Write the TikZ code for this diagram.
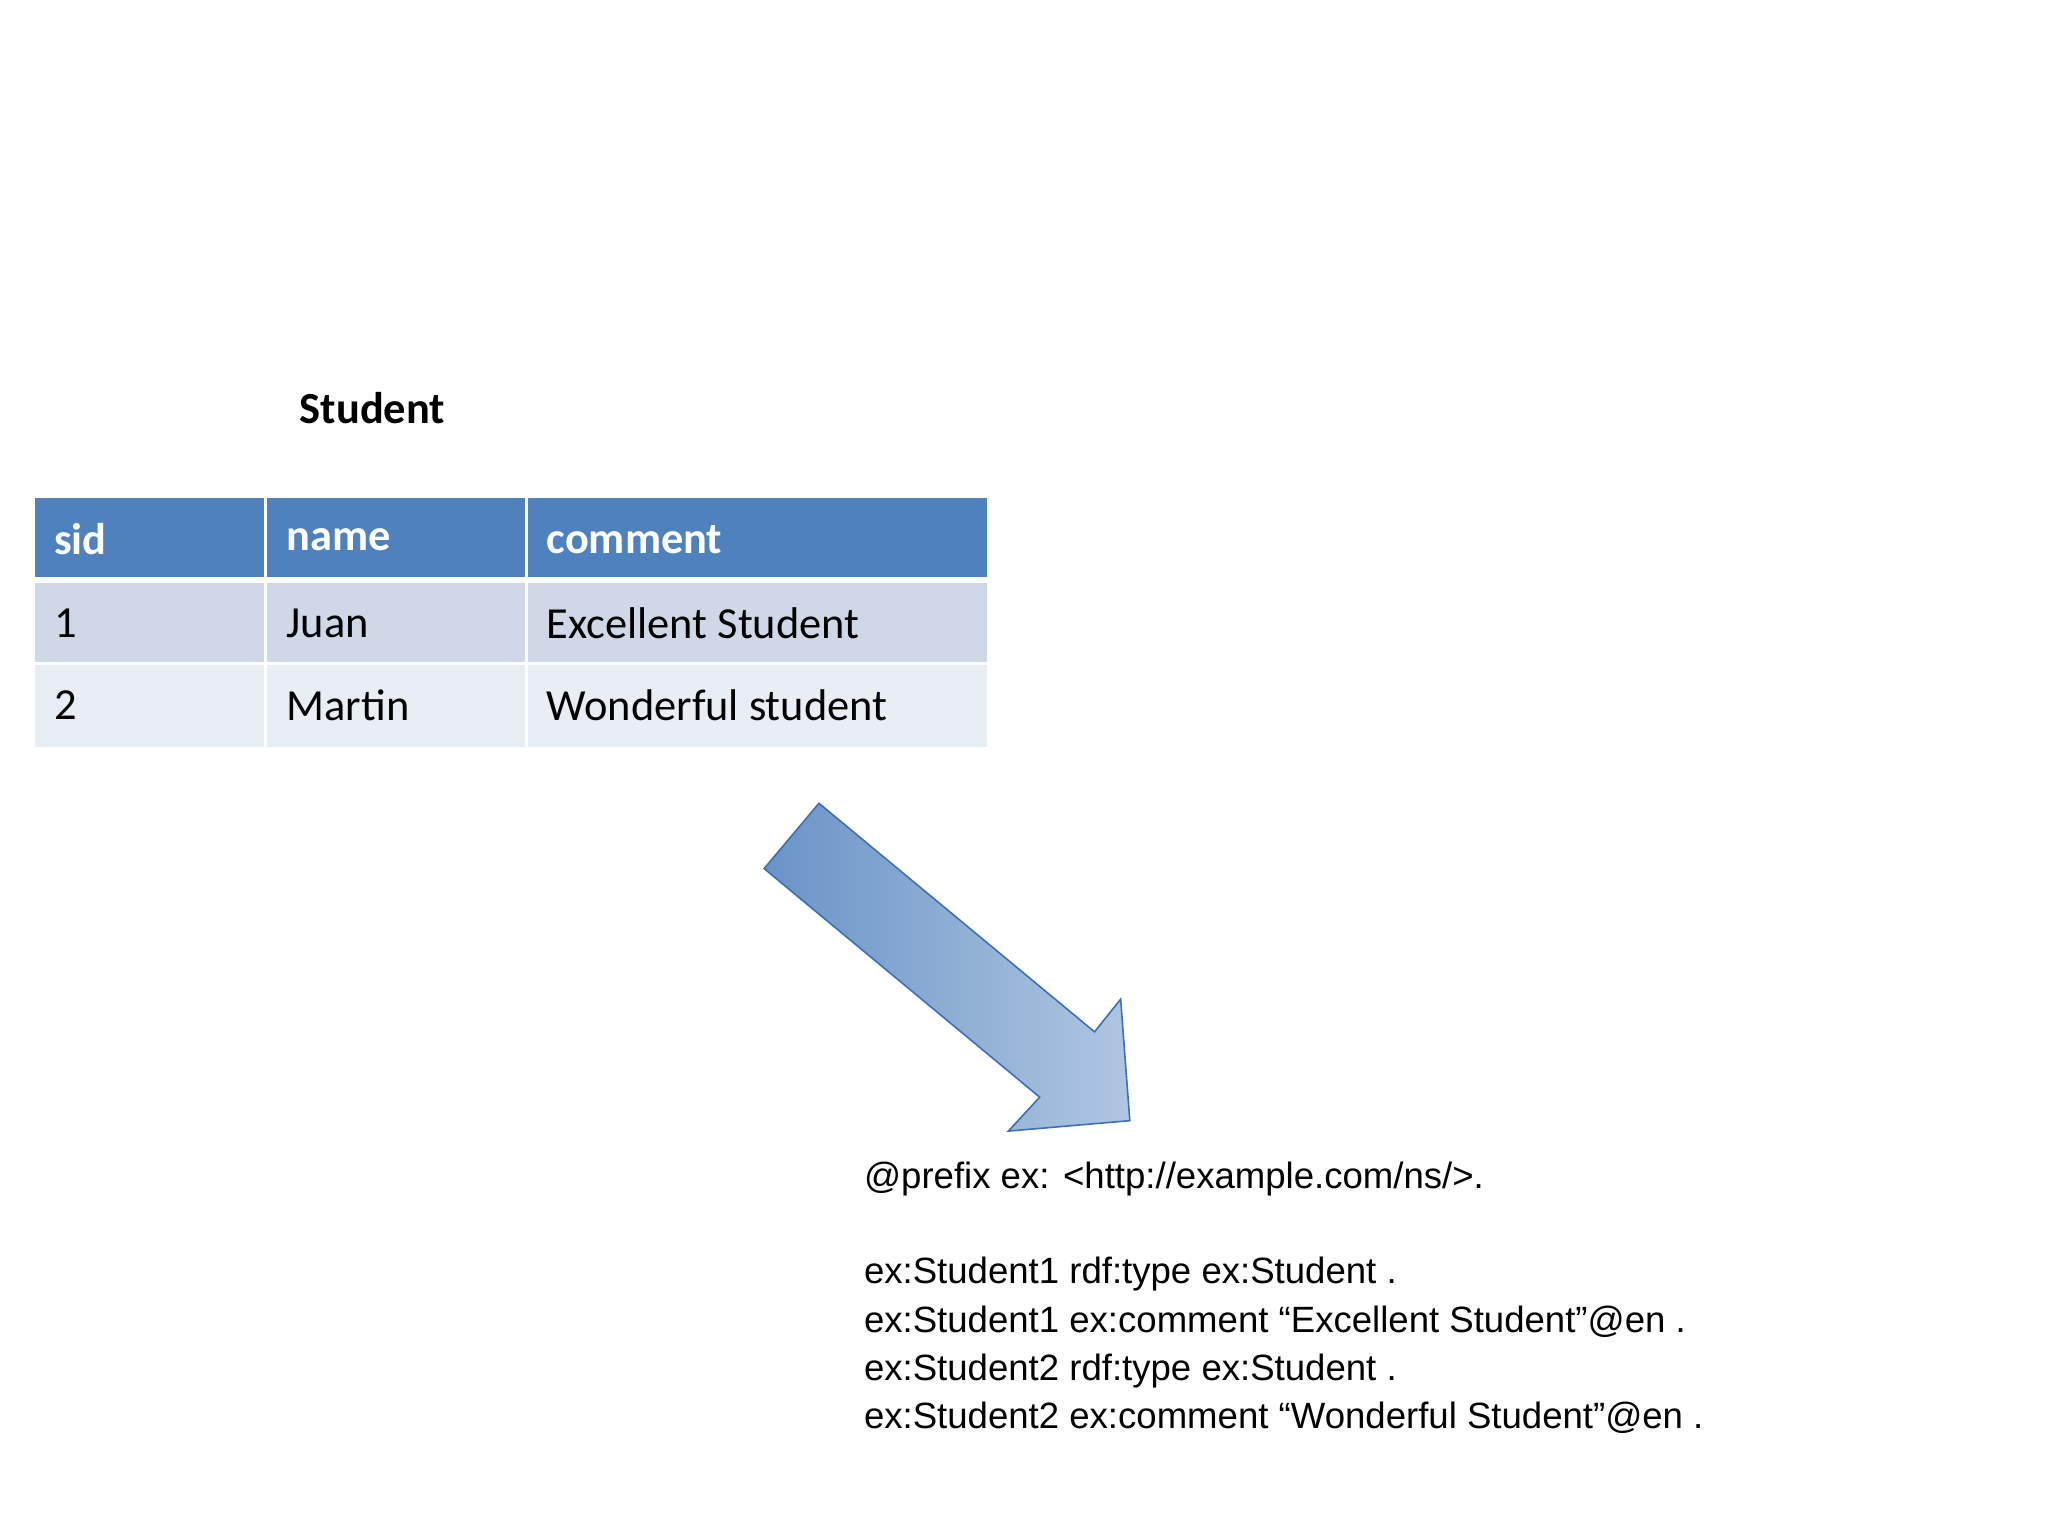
\documentclass[tikz,border=0pt]{standalone}
\usepackage{fontspec}
\setmainfont{Carlito}
\newfontfamily\codefont{Liberation Sans}
\definecolor{hdr}{HTML}{4F81BD}
\definecolor{rowa}{HTML}{D0D8E8}
\definecolor{rowb}{HTML}{E9EDF4}
\definecolor{arrline}{HTML}{3C6EB4}
\begin{document}
\begin{tikzpicture}[x=1pt,y=-1pt,
  cell/.style={draw=white,line width=2.5pt},
  htext/.style={anchor=west,text=white,font=\fontsize{34}{40}\selectfont\bfseries},
  btext/.style={anchor=west,text=black,font=\fontsize{34}{40}\selectfont},
  code/.style={anchor=base west,font=\codefont\fontsize{28}{34}\selectfont}]
\useasboundingbox (0,0) rectangle (1568,1176);
\node[anchor=base west,font=\fontsize{34}{40}\selectfont\bfseries] (title) at (226,324) {Student};
% table
\foreach \xa/\xb in {27/203,203/403,403/756}{
  \fill[hdr] (\xa,381) rectangle (\xb,443);
  \fill[rowa] (\xa,443) rectangle (\xb,508);
  \fill[rowb] (\xa,508) rectangle (\xb,572);
}
\foreach \x in {203,403} \draw[white,line width=2.5pt] (\x,381) -- (\x,572);
\draw[white,line width=5pt] (27,444) -- (756,444);
\draw[white,line width=2.5pt] (27,508) -- (756,508);
\node[htext] (h1) at (38,413) {sid};
\node[htext] (h2) at (216,413) {name};
\node[htext] (h3) at (415,413) {comment};
\node[btext] (a1) at (38,477) {1};
\node[btext] (a2) at (216,477) {Juan};
\node[btext] (a3) at (415,477) {Excellent Student};
\node[btext] (b1) at (38,540) {2};
\node[btext] (b2) at (216,540) {Martin};
\node[btext] (b3) at (415,540) {Wonderful student};
% arrow
\shade[left color=hdr!85!white,right color=hdr!45!white,draw=arrline,line width=1.2pt,line join=miter]
  (627,615) -- (838,790) -- (858,765) -- (865,858) -- (772,866) -- (796,840) -- (585,665) -- cycle;
% code
\node[code] (c0) at (658,910) {@prefix ex: <http://example.com/ns/>.};
\node[code] (c1) at (658,983) {ex:Student1 rdf:type ex:Student .};
\node[code] (c2) at (658,1020) {ex:Student1 ex:comment “Excellent Student”@en .};
\node[code] (c3) at (658,1057) {ex:Student2 rdf:type ex:Student .};
\node[code] (c4) at (658,1094) {ex:Student2 ex:comment “Wonderful Student”@en .};
\end{tikzpicture}
\end{document}
